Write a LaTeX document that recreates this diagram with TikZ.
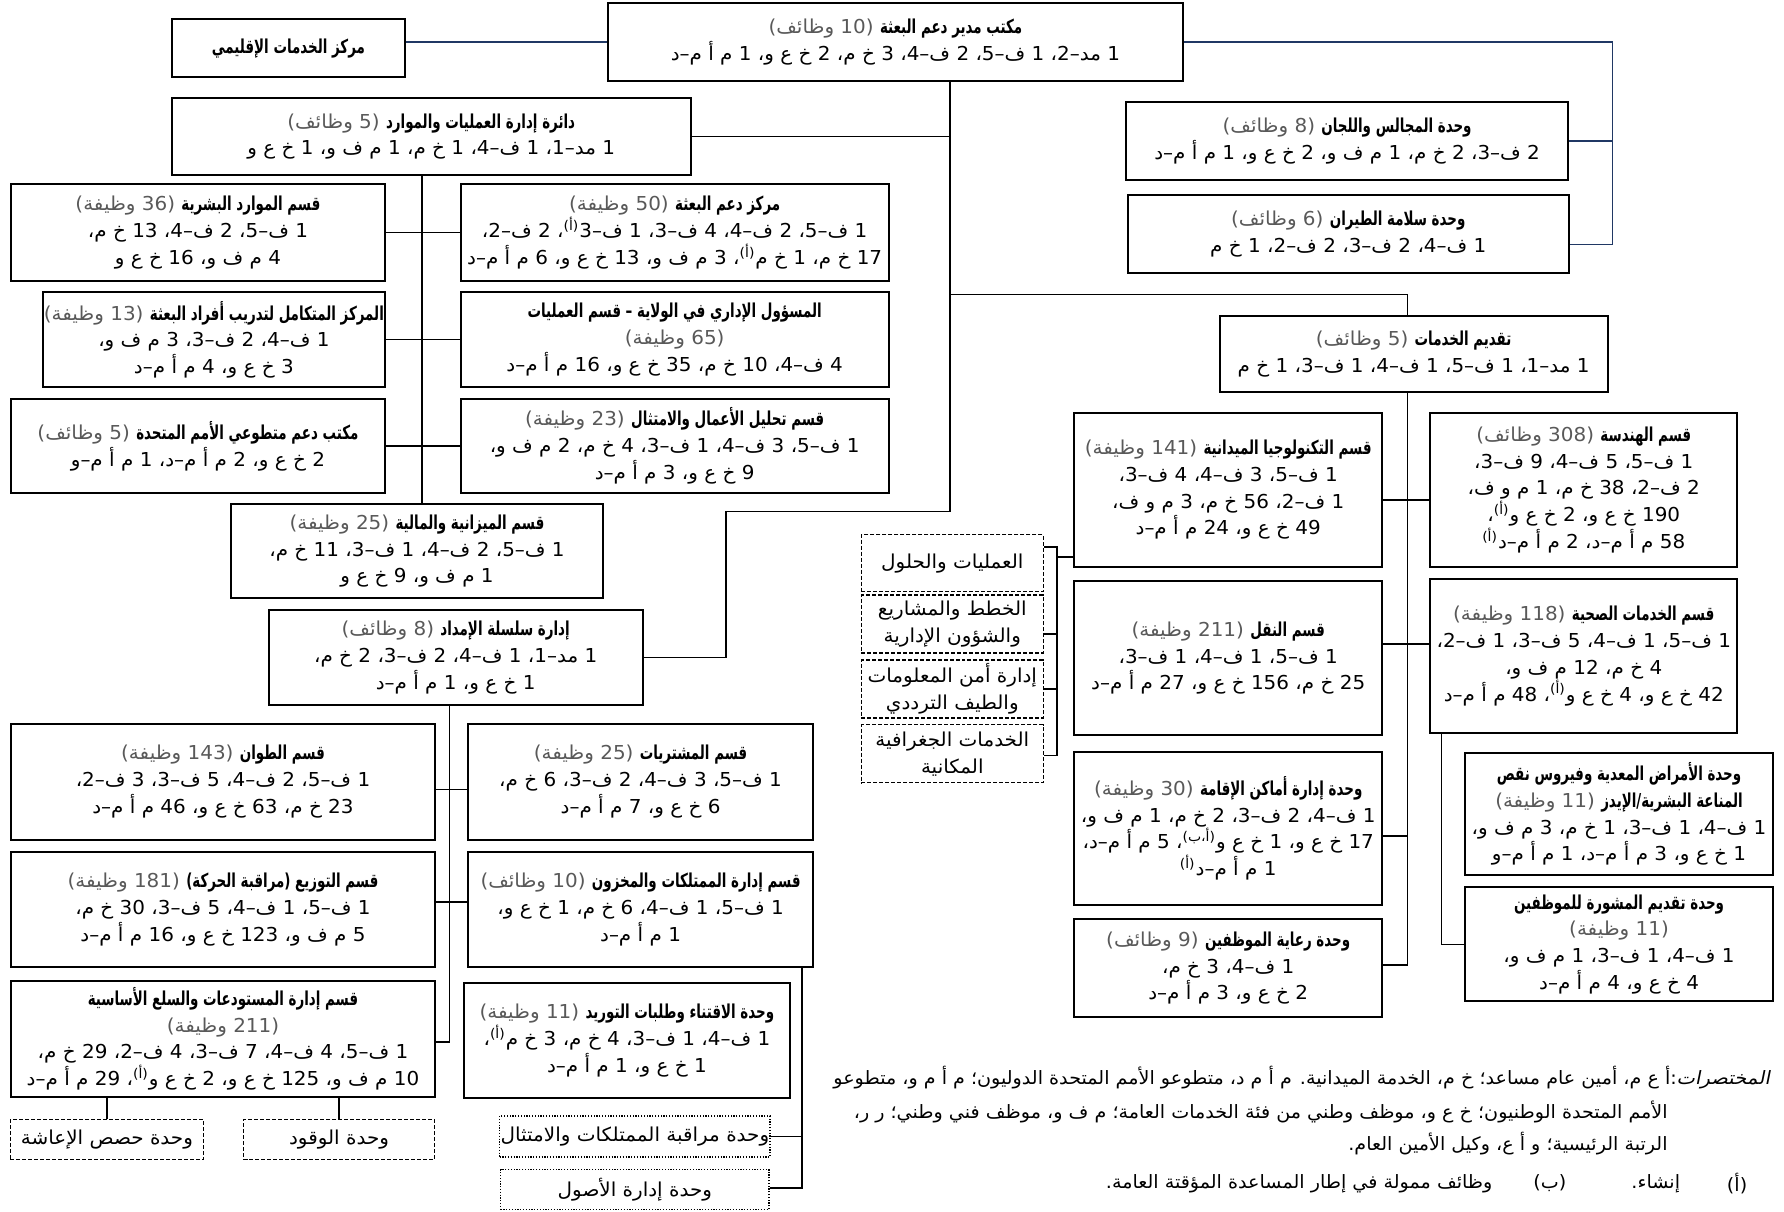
\documentclass[tikz,border=0pt]{standalone}
\usepackage{fontspec}
\usepackage{xcolor}
\TeXXeTstate=1
\newfontfamily\arabicfont[Script=Arabic,FakeStretch=1.04,BoldFeatures={FakeStretch=0.7}]{DejaVu Sans}
\newfontfamily\arabicslant[Script=Arabic,FakeStretch=1.07,FakeSlant=0.2]{DejaVu Sans}
\newcommand{\ar}[1]{\beginR #1\endR}
\newcommand{\cnt}[1]{{\color{black!65}\ar{#1}}}
\newcommand{\ttl}[2]{\cnt{#2} \ar{\textbf{#1}}}
\newcommand{\fa}{\textsuperscript{(أ)}}
\newcommand{\boxfont}{\arabicfont\fontsize{9.6}{13.4}\selectfont}
\definecolor{navy}{RGB}{32,56,100}

\begin{document}
\begin{tikzpicture}[
    x=0.02cm, y=-0.02cm,
    unit/.style={draw, line width=1pt, align=center, inner sep=0.5pt, font=\boxfont},
    dashunit/.style={unit, line width=0.7pt, dash pattern=on 2pt off 1pt},
    dotunit/.style={unit, line width=0.7pt, dash pattern=on 0.6pt off 0.8pt},
    link/.style={line width=0.8pt},
    navylink/.style={line width=0.7pt, draw=navy},
    legend/.style={inner sep=0pt, font=\arabicfont\fontsize{9.2}{11}\selectfont},
  ]
  \useasboundingbox (0,0) rectangle (1568,1065);

  % top level
  \node[unit, minimum width=10.12cm, minimum height=1.36cm] (mso) at (787,37)
    {\ttl{مكتب مدير دعم البعثة}{(10 وظائف)}\\
     \ar{1 مد–2، 1 ف–5، 2 ف–4، 3 خ م، 2 خ ع و، 1 م أ م–د}};
  \node[unit, minimum width=4.1cm, minimum height=1.02cm] (rsc) at (253.5,42.5)
    {\ar{\textbf{مركز الخدمات الإقليمي}}};
  \node[unit, minimum width=7.76cm, minimum height=1.36cm] (councils) at (1184,124)
    {\ttl{وحدة المجالس واللجان}{(8 وظائف)}\\
     \ar{2 ف–3، 2 خ م، 1 م ف و، 2 خ ع و، 1 م أ م–د}};
  \node[unit, minimum width=7.76cm, minimum height=1.38cm] (aviation) at (1185,205.5)
    {\ttl{وحدة سلامة الطيران}{(6 وظائف)}\\
     \ar{1 ف–4، 2 ف–3، 2 ف–2، 1 خ م}};

  % operations and resource management
  \node[unit, minimum width=9.12cm, minimum height=1.36cm] (ops) at (379,120)
    {\ttl{دائرة إدارة العمليات والموارد}{(5 وظائف)}\\
     \ar{1 مد–1، 1 ف–4، 1 خ م، 1 م ف و، 1 خ ع و}};
  \node[unit, minimum width=6.56cm, minimum height=1.7cm] (hr) at (174,204.5)
    {\ttl{قسم الموارد البشرية}{(36 وظيفة)}\\
     \ar{1 ف–5، 2 ف–4، 13 خ م،}\\ \ar{4 م ف و، 16 خ ع و}};
  \node[unit, minimum width=7.52cm, minimum height=1.7cm] (msc) at (593,204.5)
    {\ttl{مركز دعم البعثة}{(50 وظيفة)}\\
     \ar{1 ف–5، 2 ف–4، 4 ف–3، 1 ف–3\fa{}، 2 ف–2،}\\
     \ar{17 خ م، 1 خ م\fa{}، 3 م ف و، 13 خ ع و، 6 م أ م–د}};
  \node[unit, minimum width=6cm, minimum height=1.66cm] (training) at (188,298.5)
    {\ttl{المركز المتكامل لتدريب أفراد البعثة}{(13 وظيفة)}\\
     \ar{1 ف–4، 2 ف–3، 3 م ف و،}\\ \ar{3 خ ع و، 4 م أ م–د}};
  \node[unit, minimum width=7.52cm, minimum height=1.66cm] (stateadmin) at (593,298.5)
    {\ar{\textbf{المسؤول الإداري في الولاية – قسم العمليات}}\\
     \cnt{(65 وظيفة)}\\ \ar{4 ف–4، 10 خ م، 35 خ ع و، 16 م أ م–د}};
  \node[unit, minimum width=6.56cm, minimum height=1.64cm] (unv) at (174,392)
    {\ttl{مكتب دعم متطوعي الأمم المتحدة}{(5 وظائف)}\\
     \ar{2 خ ع و، 2 م أ م–د، 1 م أ م–و}};
  \node[unit, minimum width=7.52cm, minimum height=1.64cm] (bizanalysis) at (593,392)
    {\ttl{قسم تحليل الأعمال والامتثال}{(23 وظيفة)}\\
     \ar{1 ف–5، 3 ف–4، 1 ف–3، 4 خ م، 2 م ف و،}\\ \ar{9 خ ع و، 3 م أ م–د}};
  \node[unit, minimum width=6.54cm, minimum height=1.66cm] (budget) at (366.5,484.5)
    {\ttl{قسم الميزانية والمالية}{(25 وظيفة)}\\
     \ar{1 ف–5، 2 ف–4، 1 ف–3، 11 خ م،}\\ \ar{1 م ف و، 9 خ ع و}};

  % supply chain management
  \node[unit, minimum width=6.58cm, minimum height=1.68cm] (supply) at (400.5,578)
    {\ttl{إدارة سلسلة الإمداد}{(8 وظائف)}\\
     \ar{1 مد–1، 1 ف–4، 2 ف–3، 2 خ م،}\\ \ar{1 خ ع و، 1 م أ م–د}};
  \node[unit, minimum width=7.44cm, minimum height=2.04cm] (fleet) at (196,687)
    {\ttl{قسم الطوان}{(143 وظيفة)}\\
     \ar{1 ف–5، 2 ف–4، 5 ف–3، 3 ف–2،}\\ \ar{23 خ م، 63 خ ع و، 46 م أ م–د}};
  \node[unit, minimum width=6.08cm, minimum height=2.04cm] (procure) at (563,687)
    {\ttl{قسم المشتريات}{(25 وظيفة)}\\
     \ar{1 ف–5، 3 ف–4، 2 ف–3، 6 خ م،}\\ \ar{6 خ ع و، 7 م أ م–د}};
  \node[unit, minimum width=7.44cm, minimum height=2.02cm] (distrib) at (196,799.5)
    {\ttl{قسم التوزيع (مراقبة الحركة)}{(181 وظيفة)}\\
     \ar{1 ف–5، 1 ف–4، 5 ف–3، 30 خ م،}\\ \ar{5 م ف و، 123 خ ع و، 16 م أ م–د}};
  \node[unit, minimum width=6.08cm, minimum height=2.02cm] (property) at (563,799.5)
    {\ttl{قسم إدارة الممتلكات والمخزون}{(10 وظائف)}\\
     \ar{1 ف–5، 1 ف–4، 6 خ م، 1 خ ع و،}\\ \ar{1 م أ م–د}};
  \node[unit, minimum width=7.44cm, minimum height=2.04cm] (warehouse) at (196,913)
    {\ar{\textbf{قسم إدارة المستودعات والسلع الأساسية}}\\ \cnt{(211 وظيفة)}\\
     \ar{1 ف–5، 4 ف–4، 7 ف–3، 4 ف–2، 29 خ م،}\\
     \ar{10 م ف و، 125 خ ع و، 2 خ ع و\fa{}، 29 م أ م–د}};
  \node[unit, minimum width=5.72cm, minimum height=2.02cm] (acquire) at (551,914.5)
    {\ttl{وحدة الاقتناء وطلبات التوريد}{(11 وظيفة)}\\
     \ar{1 ف–4، 1 ف–3، 4 خ م، 3 خ م\fa{}،}\\ \ar{1 خ ع و، 1 م أ م–د}};
  \node[dashunit, minimum width=3.4cm, minimum height=0.7cm] (rations) at (94,1001.5)
    {\ar{وحدة حصص الإعاشة}};
  \node[dashunit, minimum width=3.36cm, minimum height=0.7cm] (fuel) at (298,1001.5)
    {\ar{وحدة الوقود}};
  \node[dotunit, minimum width=4.72cm, minimum height=0.72cm] (propctl) at (558,999)
    {\ar{وحدة مراقبة الممتلكات والامتثال}};
  \node[dotunit, minimum width=4.72cm, minimum height=0.7cm] (assets) at (558,1045.5)
    {\ar{وحدة إدارة الأصول}};

  % service delivery
  \node[unit, minimum width=6.82cm, minimum height=1.33cm] (service) at (1242.5,311)
    {\ttl{تقديم الخدمات}{(5 وظائف)}\\
     \ar{1 مد–1، 1 ف–5، 1 ف–4، 1 ف–3، 1 خ م}};
  \node[unit, minimum width=5.42cm, minimum height=2.7cm] (fieldtech) at (1079.5,430.5)
    {\ttl{قسم التكنولوجيا الميدانية}{(141 وظيفة)}\\
     \ar{1 ف–5، 3 ف–4، 4 ف–3،}\\ \ar{1 ف–2، 56 خ م، 3 م و ف،}\\ \ar{49 خ ع و، 24 م أ م–د}};
  \node[unit, minimum width=5.4cm, minimum height=2.7cm] (engineer) at (1392,430.5)
    {\ttl{قسم الهندسة}{(308 وظائف)}\\
     \ar{1 ف–5، 5 ف–4، 9 ف–3،}\\ \ar{2 ف–2، 38 خ م، 1 م و ف،}\\
     \ar{190 خ ع و، 2 خ ع و\fa{}،}\\ \ar{58 م أ م–د، 2 م أ م–د\fa}};
  \node[unit, minimum width=5.42cm, minimum height=2.7cm] (transport) at (1079.5,578.5)
    {\ttl{قسم النقل}{(211 وظيفة)}\\
     \ar{1 ف–5، 1 ف–4، 1 ف–3،}\\ \ar{25 خ م، 156 خ ع و، 27 م أ م–د}};
  \node[unit, minimum width=5.4cm, minimum height=2.7cm] (medical) at (1392,576.5)
    {\ttl{قسم الخدمات الصحية}{(118 وظيفة)}\\
     \ar{1 ف–5، 1 ف–4، 5 ف–3، 1 ف–2،}\\ \ar{4 خ م، 12 م ف و،}\\
     \ar{42 خ ع و، 4 خ ع و\fa{}، 48 م أ م–د}};
  \node[unit, minimum width=5.42cm, minimum height=2.68cm] (accom) at (1079.5,728)
    {\ttl{وحدة إدارة أماكن الإقامة}{(30 وظيفة)}\\
     \ar{1 ف–4، 2 ف–3، 2 خ م، 1 م ف و،}\\
     \ar{17 خ ع و، 1 خ ع و\textsuperscript{(أ،ب)}، 5 م أ م–د،}\\ \ar{1 م أ م–د\fa}};
  \node[unit, minimum width=5.42cm, minimum height=1.72cm] (welfare) at (1079.5,851)
    {\ttl{وحدة رعاية الموظفين}{(9 وظائف)}\\
     \ar{1 ف–4، 3 خ م،}\\ \ar{2 خ ع و، 3 م أ م–د}};
  \node[unit, minimum width=5.4cm, minimum height=2.14cm] (hiv) at (1423,715.5)
    {\ar{\textbf{وحدة الأمراض المعدية وفيروس نقص}}\\
     \ttl{المناعة البشرية/الإيدز}{(11 وظيفة)}\\
     \ar{1 ف–4، 1 ف–3، 1 خ م، 3 م ف و،}\\ \ar{1 خ ع و، 3 م أ م–د، 1 م أ م–و}};
  \node[unit, minimum width=5.4cm, minimum height=2cm] (counsel) at (1423,830)
    {\ar{\textbf{وحدة تقديم المشورة للموظفين}}\\ \cnt{(11 وظيفة)}\\
     \ar{1 ف–4، 1 ف–3، 1 م ف و،}\\ \ar{4 خ ع و، 4 م أ م–د}};
  \node[dashunit, minimum width=3.2cm, minimum height=1cm] (dOps) at (837,495)
    {\ar{العمليات والحلول}};
  \node[dashunit, minimum width=3.2cm, minimum height=1.02cm] (dPlans) at (837,548.5)
    {\ar{الخطط والمشاريع}\\ \ar{والشؤون الإدارية}};
  \node[dashunit, minimum width=3.2cm, minimum height=1.02cm] (dInfosec) at (837,605.5)
    {\ar{إدارة أمن المعلومات}\\ \ar{والطيف الترددي}};
  \node[dashunit, minimum width=3.2cm, minimum height=1.02cm] (dGeo) at (837,662.5)
    {\ar{الخدمات الجغرافية}\\ \ar{المكانية}};

  % connectors
  \coordinate (navyTop) at (1417,37);
  \coordinate (navyBot) at (1417,215);
  \draw[navylink] (mso.west) -- (mso.west -| rsc.east);
  \draw[navylink] (mso.east) -- (navyTop) -- (navyBot) -- (navyBot -| aviation.east);
  \draw[navylink] (councils.east) -- (councils.east -| navyTop);

  \coordinate (trunk) at (835,449.7);
  \coordinate (jog) at (638,449.7);
  \coordinate (sdTurn) at (1237,259);
  \draw[link] (trunk |- mso.south) -- (trunk) -- (jog) -- (jog |- supply.east) -- (supply.east);
  \draw[link] (ops.east) -- (ops.east -| trunk);
  \draw[link] (sdTurn -| trunk) -- (sdTurn) -- (sdTurn |- service.north);

  \coordinate (opsBus) at (371,0);
  \draw[link] (opsBus |- ops.south) -- (opsBus |- budget.north);
  \draw[link] (hr.east) -- (msc.west);
  \draw[link] (training.east) -- (stateadmin.west);
  \draw[link] (unv.east) -- (bizanalysis.west);

  \coordinate (scBus) at (395,916);
  \draw[link] (scBus |- supply.south) -- (scBus) -- (scBus -| warehouse.east);
  \draw[link] ([yshift=-0.14cm]fleet.east) -- ([yshift=-0.14cm]procure.west);
  \draw[link] ([yshift=0.13cm]distrib.east) -- ([yshift=0.13cm]property.west);
  \draw[link] (rations.north) -- (rations.north |- warehouse.south);
  \draw[link] (fuel.north) -- (fuel.north |- warehouse.south);
  \coordinate (propBus) at (705,1044);
  \draw[link] (propBus |- property.south) -- (propBus) -- (propBus -| assets.east);
  \draw[link] (propctl.east) -- (propctl.east -| propBus);

  \coordinate (sdBus) at (1237,848);
  \draw[link] (sdBus |- service.south) -- (sdBus) -- (sdBus -| welfare.east);
  \draw[link] ([yshift=-0.18cm]fieldtech.east) -- ([yshift=-0.18cm]engineer.west);
  \draw[link] ([yshift=0.25cm]transport.east) -- ([yshift=0.25cm]transport.east -| medical.west);
  \draw[link] ([yshift=-0.14cm]accom.east) -- ([yshift=-0.14cm]accom.east -| sdBus);
  \coordinate (medBus) at (1267,830);
  \draw[link] (medBus |- medical.south) -- (medBus) -- (medBus -| counsel.west);

  \coordinate (dBusTop) at (929,480.5);
  \coordinate (dBusBot) at (929,664);
  \draw[link] (dBusTop -| dOps.east) -- (dBusTop) -- (dBusBot) -- (dBusBot -| dGeo.east);
  \draw[link] ([yshift=0.19cm]fieldtech.south west) -- ([yshift=0.19cm]fieldtech.south west -| dBusTop);
  \draw[link] ([yshift=-0.17cm]dPlans.east) -- ([yshift=-0.17cm]dPlans.east -| dBusTop);
  \draw[link] (dInfosec.east) -- (dInfosec.east -| dBusTop);

  % legend
  \node[legend, anchor=east] (abbrA) at (1556,947)
    {\ar{{\arabicslant المختصرات}:أ ع م، أمين عام مساعد؛ خ م، الخدمة الميدانية. م أ م د، متطوعو الأمم المتحدة الدوليون؛ م أ م و، متطوعو}};
  \node[legend, anchor=east] (abbrB) at (1466,977)
    {\ar{الأمم المتحدة الوطنيون؛ خ ع و، موظف وطني من فئة الخدمات العامة؛ م ف و، موظف فني وطني؛ ر ر،}};
  \node[legend, anchor=east] (abbrC) at (1466,1005)
    {\ar{الرتبة الرئيسية؛ و أ ع، وكيل الأمين العام.}};
  \node[legend, anchor=east] (noteA) at (1536,1040) {\ar{(أ)}};
  \node[legend, anchor=east] (noteAtext) at (1477,1040) {\ar{إنشاء.}};
  \node[legend, anchor=east] (noteB) at (1377,1040) {\ar{(ب)}};
  \node[legend, anchor=east] (noteBtext) at (1312,1040)
    {\ar{وظائف ممولة في إطار المساعدة المؤقتة العامة.}};
\end{tikzpicture}
\end{document}
